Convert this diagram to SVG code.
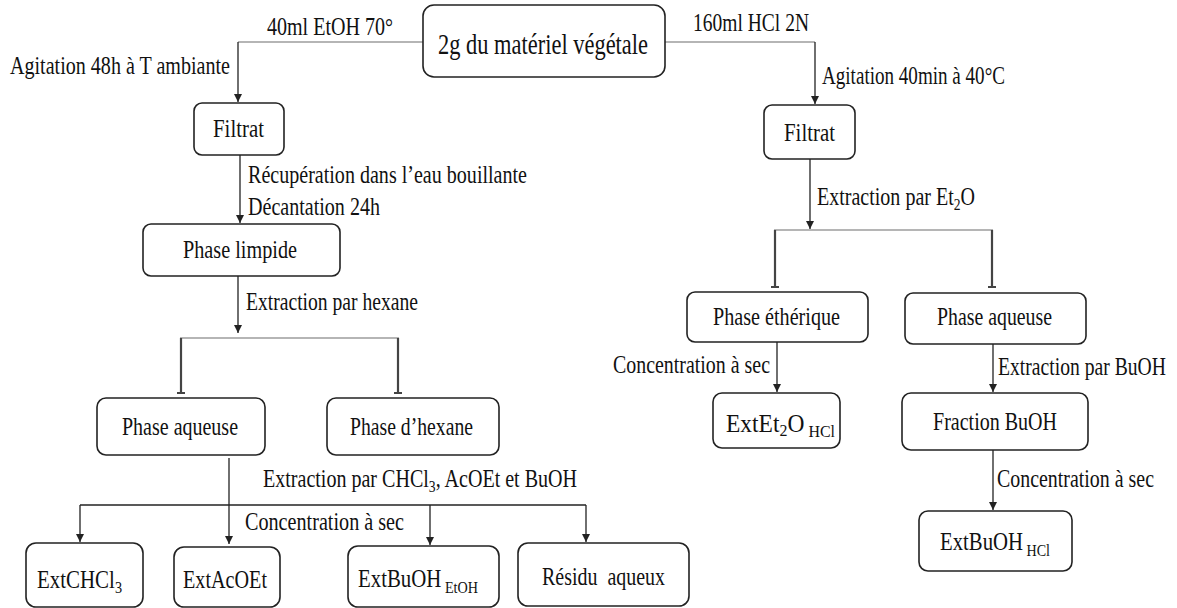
<svg xmlns="http://www.w3.org/2000/svg" width="1177" height="608" viewBox="0 0 1177 608" font-family="'Liberation Serif', 'Times New Roman', serif">
<style>
text{font-family:'Liberation Serif','Times New Roman',serif;font-size:25px;fill:#111}
.box{fill:#fff;stroke:#222;stroke-width:1.6}
.gray{stroke:#b5b5b5;stroke-width:2;fill:none}
.ln{stroke:#222;stroke-width:1.3;fill:none}
.drop{stroke:#444;stroke-width:2.2;fill:none}
.sub{font-size:17px}
.big{font-size:29px}
.pre{white-space:pre}
</style>
<defs>
<marker id="ah" viewBox="0 0 8 10" refX="8" refY="5" markerWidth="8" markerHeight="10" markerUnits="userSpaceOnUse" orient="auto">
<path d="M0,1 L8,5 L0,9 Z" fill="#222"/>
</marker>
<marker id="tk" viewBox="0 0 4 8" refX="4" refY="4" markerWidth="4" markerHeight="8" markerUnits="userSpaceOnUse" orient="auto">
<path d="M2,0 L4,0 L4,8 L2,8 Z" fill="#444"/>
</marker>
</defs>
<g id="connectors">
<path class="gray" d="M423,42 H238"/>
<path class="ln" marker-end="url(#ah)" d="M238,42 V102"/>
<path class="gray" d="M665,42 H815"/>
<path class="ln" marker-end="url(#ah)" d="M815,42 V104"/>
<path class="ln" marker-end="url(#ah)" d="M240,155 V223"/>
<path class="ln" marker-end="url(#ah)" d="M238,276 V333"/>
<path class="gray" d="M180,338 H399"/>
<path class="drop" marker-end="url(#tk)" d="M181,338 V394"/>
<path class="drop" marker-end="url(#tk)" d="M398,338 V394"/>
<path class="ln" marker-end="url(#ah)" d="M229,458 V544"/>
<path class="ln" d="M80,505 H586"/>
<path class="ln" marker-end="url(#ah)" d="M80,505 V542"/>
<path class="ln" marker-end="url(#ah)" d="M430,505 V545"/>
<path class="ln" marker-end="url(#ah)" d="M586,505 V542"/>
<path class="ln" marker-end="url(#ah)" d="M810,159 V229"/>
<path class="gray" d="M774,230 H993"/>
<path class="drop" marker-end="url(#tk)" d="M775,230 V288"/>
<path class="drop" marker-end="url(#tk)" d="M992,230 V288"/>
<path class="ln" marker-end="url(#ah)" d="M777,342 V392"/>
<path class="ln" marker-end="url(#ah)" d="M993,344 V392"/>
<path class="ln" marker-end="url(#ah)" d="M993,450 V510"/>
<text x="267" y="35" textLength="126" lengthAdjust="spacingAndGlyphs">40ml EtOH 70°</text>
<text x="10" y="74" textLength="220" lengthAdjust="spacingAndGlyphs">Agitation 48h à T ambiante</text>
<text x="693" y="31" textLength="116" lengthAdjust="spacingAndGlyphs">160ml HCl 2N</text>
<text x="822" y="84" textLength="183" lengthAdjust="spacingAndGlyphs">Agitation 40min à 40°C</text>
<text x="248" y="183" textLength="279" lengthAdjust="spacingAndGlyphs">Récupération dans l’eau bouillante</text>
<text x="248" y="215" textLength="132" lengthAdjust="spacingAndGlyphs">Décantation 24h</text>
<text x="246" y="310" textLength="172" lengthAdjust="spacingAndGlyphs">Extraction par hexane</text>
<text x="817" y="205" textLength="158" lengthAdjust="spacingAndGlyphs">Extraction par Et<tspan class="sub" dy="5">2</tspan><tspan dy="-5">O</tspan></text>
<text x="613" y="373" textLength="157" lengthAdjust="spacingAndGlyphs">Concentration à sec</text>
<text x="998" y="375" textLength="168" lengthAdjust="spacingAndGlyphs">Extraction par BuOH</text>
<text x="997" y="487" textLength="157" lengthAdjust="spacingAndGlyphs">Concentration à sec</text>
<text x="263" y="487" textLength="314" lengthAdjust="spacingAndGlyphs">Extraction par CHCl<tspan class="sub" dy="5">3</tspan><tspan dy="-5">, AcOEt et BuOH</tspan></text>
<text x="245" y="530" textLength="159" lengthAdjust="spacingAndGlyphs">Concentration à sec</text>
</g>
<g id="n-materiel"><rect class="box" x="423" y="5" width="242" height="72" rx="11"/><text class="big" x="438" y="54" textLength="210" lengthAdjust="spacingAndGlyphs">2g du matériel végétale</text></g>
<g id="n-filtrat1"><rect class="box" x="194" y="103" width="90" height="52" rx="8"/><text x="213" y="137" textLength="51" lengthAdjust="spacingAndGlyphs">Filtrat</text></g>
<g id="n-filtrat2"><rect class="box" x="764" y="105" width="91" height="54" rx="8"/><text x="784" y="141" textLength="51" lengthAdjust="spacingAndGlyphs">Filtrat</text></g>
<g id="n-limpide"><rect class="box" x="143" y="224" width="197" height="52" rx="8"/><text x="183" y="258" textLength="114" lengthAdjust="spacingAndGlyphs">Phase limpide</text></g>
<g id="n-aqueuse1"><rect class="box" x="97" y="398" width="168" height="57" rx="9"/><text x="122" y="435" textLength="116" lengthAdjust="spacingAndGlyphs">Phase aqueuse</text></g>
<g id="n-hexane"><rect class="box" x="327" y="398" width="172" height="57" rx="9"/><text x="350" y="435" textLength="123" lengthAdjust="spacingAndGlyphs">Phase d’hexane</text></g>
<g id="n-etherique"><rect class="box" x="687" y="292" width="181" height="50" rx="8"/><text x="713" y="325" textLength="127" lengthAdjust="spacingAndGlyphs">Phase éthérique</text></g>
<g id="n-aqueuse2"><rect class="box" x="905" y="293" width="181" height="51" rx="8"/><text x="937" y="325" textLength="115" lengthAdjust="spacingAndGlyphs">Phase aqueuse</text></g>
<g id="n-extet2o"><rect class="box" x="713" y="393" width="127" height="55" rx="9"/><text x="726" y="432" textLength="109" lengthAdjust="spacingAndGlyphs">ExtEt<tspan class="sub" dy="4">2</tspan><tspan dy="-4">O</tspan><tspan class="sub" dy="5"> HCl</tspan></text></g>
<g id="n-fraction"><rect class="box" x="902" y="393" width="186" height="57" rx="9"/><text x="933" y="430" textLength="124" lengthAdjust="spacingAndGlyphs">Fraction BuOH</text></g>
<g id="n-extbuoh-hcl"><rect class="box" x="919" y="511" width="153" height="60" rx="9"/><text x="940" y="550" textLength="110" lengthAdjust="spacingAndGlyphs">ExtBuOH<tspan class="sub" dy="6"> HCl</tspan></text></g>
<g id="n-chcl3"><rect class="box" x="26" y="543" width="117" height="64" rx="10"/><text x="37" y="588" textLength="85" lengthAdjust="spacingAndGlyphs">ExtCHCl<tspan class="sub" dy="5">3</tspan></text></g>
<g id="n-acoet"><rect class="box" x="174" y="547" width="106" height="60" rx="10"/><text x="183" y="588" textLength="84" lengthAdjust="spacingAndGlyphs">ExtAcOEt</text></g>
<g id="n-extbuoh-etoh"><rect class="box" x="348" y="546" width="151" height="61" rx="10"/><text x="358" y="587" textLength="120" lengthAdjust="spacingAndGlyphs">ExtBuOH<tspan class="sub" dy="6"> EtOH</tspan></text></g>
<g id="n-residu"><rect class="box" x="518" y="543" width="171" height="63" rx="10"/><text class="pre" x="542" y="585" textLength="123" lengthAdjust="spacingAndGlyphs">Résidu  aqueux</text></g>
</svg>
